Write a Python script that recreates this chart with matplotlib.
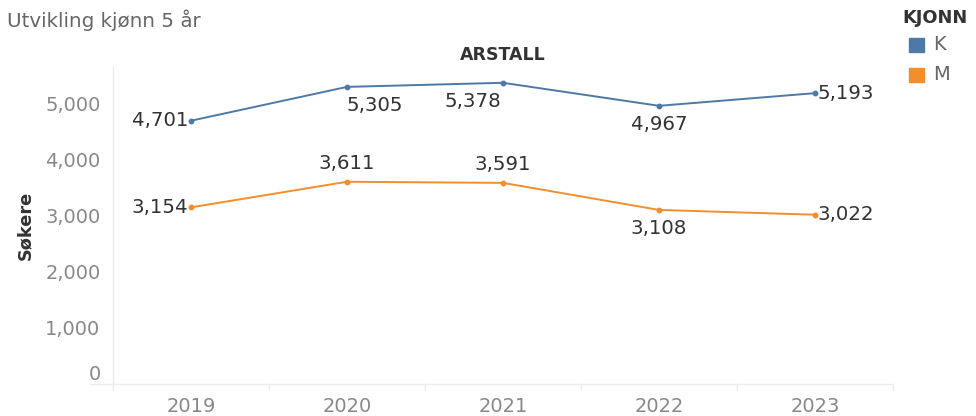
import matplotlib
matplotlib.use("Agg")
import matplotlib.pyplot as plt
from matplotlib.ticker import FuncFormatter

plt.rcParams['font.family'] = ['DejaVu Sans']

years = ["2019", "2020", "2021", "2022", "2023"]
k_values = [4701, 5305, 5378, 4967, 5193]
m_values = [3154, 3611, 3591, 3108, 3022]
series_names = ["K", "M"]
colors = ["#4e79a7", "#f28e2b"]

# label placement: (dx points, dy points, ha, va)
k_pos = [(-2, 0, 'right', 'center'), (0, -6.5, 'left', 'top'), (-1, -6.5, 'right', 'top'),
         (0, -6.5, 'center', 'top'), (2, 0, 'left', 'center')]
m_pos = [(-2, 0, 'right', 'center'), (0, 6.5, 'center', 'bottom'), (0, 6.5, 'center', 'bottom'),
         (0, -6.5, 'center', 'top'), (2, 0, 'left', 'center')]

W, H = 976, 416
fig = plt.figure(figsize=(W / 100, H / 100), dpi=100)
ax = fig.add_axes([113 / W, (H - 384) / H, 780 / W, (384 - 67) / H])

x = list(range(len(years)))
for vals, col, pos in [(k_values, colors[0], k_pos), (m_values, colors[1], m_pos)]:
    ax.plot(x, vals, color=col, lw=1.4, marker='o', ms=3.2, zorder=3)
    for xi, v, (dx, dy, ha, va) in zip(x, vals, pos):
        ax.annotate(f"{v:,}", (xi, v), xytext=(dx, dy), textcoords='offset points',
                    ha=ha, va=va, fontsize=14.2, color='#333333')

ax.set_xlim(-0.5, len(years) - 0.5)
ax.set_ylim(0, 5660)
ax.set_yticks([0, 1000, 2000, 3000, 4000, 5000])
ax.yaxis.set_major_formatter(FuncFormatter(lambda v, p: f"{int(v):,}"))
ax.set_xticks(x)
ax.set_xticklabels(years)
ax.tick_params(axis='both', length=0, labelsize=14, labelcolor='#888888')
ax.tick_params(axis='x', pad=9)
ax.tick_params(axis='y', pad=9)
for lab in ax.get_yticklabels():
    if lab.get_text() == '0':
        lab.set_verticalalignment('bottom')

for side in ['top', 'right']:
    ax.spines[side].set_visible(False)
for side in ['left', 'bottom']:
    ax.spines[side].set_color('#ececec')
    ax.spines[side].set_linewidth(1.0)

# category separators below axis
for b in [i - 0.5 for i in range(len(years) + 1)]:
    ax.plot([b, b], [0, -0.02], transform=ax.get_xaxis_transform(), color='#ececec',
            lw=1.0, clip_on=False)
ax.plot([0, -0.03], [0, 0], transform=ax.transAxes, color='#ececec', lw=1.0, clip_on=False)

ax.set_title("ARSTALL", fontsize=12.5, fontweight='bold', color='#333333', pad=5)
ax.set_ylabel("Søkere", fontsize=12.8, fontweight='bold', color='#333333', labelpad=8)

fig.text(7 / W, 1 - 20 / H, "Utvikling kjønn 5 år", fontsize=14.3, color='#666666',
         ha='left', va='center')

# legend
fig.text(902 / W, 1 - 18 / H, "KJONN", fontsize=12.8, fontweight='bold', color='#333333',
         ha='left', va='center')
for i, (name, col) in enumerate(zip(series_names, colors)):
    yc = 45 + 30 * i
    fig.patches.append(plt.Rectangle((909 / W, 1 - (yc + 7) / H), 15 / W, 14 / H,
                                     transform=fig.transFigure, color=col, figure=fig))
    fig.text(933 / W, 1 - yc / H, name, fontsize=14, color='#666666', ha='left', va='center')

fig.savefig("out.png", dpi=100)
